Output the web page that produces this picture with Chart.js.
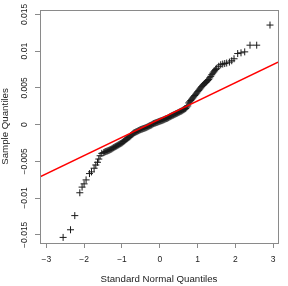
<!DOCTYPE html>
<html>
<head>
<meta charset="utf-8">
<script src="https://cdn.jsdelivr.net/npm/chart.js@4.4.0/dist/chart.umd.min.js"></script>
<style>
  html, body { margin: 0; padding: 0; background: #fff; }
  #wrap { width: 288px; height: 286px; }
</style>
</head>
<body>
<div id="wrap"><canvas id="qqChart"></canvas></div>
<script>
// theoretical normal quantiles
const theoQ = [
  -2.558, -2.362, -2.249, -2.116, -2.056, -2.003, -1.950, -1.860, -1.807, -1.738,
  -1.693, -1.648, -1.614, -1.579, -1.534,
  -1.481, -1.429, -1.376, -1.323, -1.270, -1.217, -1.164, -1.111, -1.058, -1.005,
  -0.952, -0.899, -0.847, -0.794, -0.741, -0.688, -0.635, -0.582, -0.529, -0.476,
  -0.423, -0.370, -0.317, -0.265, -0.212, -0.159, -0.106, -0.053, 0.000, 0.053,
  0.106, 0.159, 0.212, 0.265, 0.317, 0.370, 0.423, 0.476, 0.529, 0.582,
  0.635, 0.688, 0.741, 0.767, 0.820, 0.873, 0.926, 0.979, 1.032, 1.085,
  1.138, 1.190, 1.243, 1.296, 1.349, 1.402, 1.455, 1.508, 1.561, 1.614,
  1.667, 1.720, 1.772, 1.844, 1.905, 1.966, 2.063, 2.151, 2.249, 2.389,
  2.566, 2.918
];
// sample quantiles
const sampleQ = [
  -0.01536, -0.01432, -0.01239, -0.00928, -0.00851, -0.00807, -0.00753, -0.00667, -0.00644, -0.00594,
  -0.00550, -0.00513, -0.00469, -0.00424, -0.00392,
  -0.00381, -0.00367, -0.00357, -0.00345, -0.00331, -0.00313, -0.00297, -0.00282, -0.00266, -0.00250,
  -0.00230, -0.00205, -0.00185, -0.00165, -0.00138, -0.00115, -0.00101, -0.00088, -0.00074, -0.00063,
  -0.00053, -0.00043, -0.00030, -0.00016, -0.00003, 0.00014, 0.00024, 0.00034, 0.00045, 0.00054,
  0.00065, 0.00078, 0.00088, 0.00105, 0.00119, 0.00132, 0.00146, 0.00159, 0.00173, 0.00186,
  0.00203, 0.00220, 0.00254, 0.00295, 0.00328, 0.00362, 0.00396, 0.00430, 0.00466, 0.00500,
  0.00534, 0.00561, 0.00585, 0.00615, 0.00657, 0.00700, 0.00734, 0.00767, 0.00794, 0.00815,
  0.00824, 0.00831, 0.00838, 0.00851, 0.00869, 0.00896, 0.00967, 0.00977, 0.00990, 0.01081,
  0.01081, 0.01355
];
// the dense middle of the sample (overlapping crosses)
const theoQMid = [
  -1.455, -1.402, -1.349, -1.296, -1.243, -1.190, -1.138, -1.085, -1.032, -0.979,
  -0.926, -0.873, -0.820, -0.767, -0.714, -0.661, -0.608, -0.556, -0.503, -0.450,
  -0.397, -0.344, -0.291, -0.238, -0.185, -0.132, -0.079, -0.026, 0.026, 0.079,
  0.132, 0.185, 0.238, 0.291, 0.344, 0.397, 0.450, 0.503, 0.556, 0.608,
  0.661, 0.714, 0.794, 0.847, 0.899, 0.952, 1.005, 1.058, 1.111, 1.164,
  1.217, 1.270, 1.323, 1.376, 1.429, 1.481
];
const sampleQMid = [
  -0.00374, -0.00362, -0.00351, -0.00338, -0.00322, -0.00305, -0.00290, -0.00274, -0.00258, -0.00240,
  -0.00218, -0.00195, -0.00175, -0.00152, -0.00126, -0.00108, -0.00095, -0.00081, -0.00068, -0.00058,
  -0.00048, -0.00037, -0.00023, -0.00010, 0.00006, 0.00019, 0.00029, 0.00040, 0.00050, 0.00060,
  0.00072, 0.00083, 0.00097, 0.00112, 0.00126, 0.00139, 0.00152, 0.00166, 0.00180, 0.00195,
  0.00212, 0.00238, 0.00311, 0.00345, 0.00379, 0.00413, 0.00448, 0.00483, 0.00517, 0.00548,
  0.00573, 0.00600, 0.00636, 0.00679, 0.00717, 0.00751
];
// qqline end points
const lineX = [-3.17, 3.13];
const lineY = [-0.00712, 0.00851];

const xTicks = [-3, -2, -1, 0, 1, 2, 3];
const yTicks = [-0.015, -0.01, -0.005, 0, 0.005, 0.01, 0.015];

const axisGray = '#8a8a8a';
const fontFam = '"Liberation Sans", Arial, sans-serif';
const minus = v => String(v).replace('-', '\u2212');

// R style: full box + rotated y tick labels
const rStyle = {
  id: 'rStyle',
  afterDraw(chart) {
    const c = chart.ctx, a = chart.chartArea, ys = chart.scales.y;
    c.save();
    c.strokeStyle = axisGray;
    c.lineWidth = 1;
    c.strokeRect(a.left + 0.5, a.top + 0.5, a.right - a.left, a.bottom - a.top);
    c.fillStyle = '#222';
    c.font = '8.5px ' + fontFam;
    c.textAlign = 'center';
    c.textBaseline = 'middle';
    yTicks.forEach(v => {
      const py = ys.getPixelForValue(v);
      c.save();
      c.translate(a.left - 15, py);
      c.rotate(-Math.PI / 2);
      c.fillText(minus(v), 0, 0);
      c.restore();
    });
    c.restore();
  }
};

const points = theoQ.map((x, i) => ({ x: x, y: sampleQ[i] }))
  .concat(theoQMid.map((x, i) => ({ x: x, y: sampleQMid[i] })));

const ctx = document.getElementById('qqChart').getContext('2d');
const qqChart = new Chart(ctx, {
  type: 'scatter',
  data: {
    datasets: [{
      label: 'qqline',
      data: lineX.map((x, i) => ({ x: x, y: lineY[i] })),
      showLine: true,
      borderColor: '#ff0000',
      borderWidth: 1.5,
      pointRadius: 0,
      order: 0
    }, {
      label: 'sample',
      data: points,
      pointStyle: 'cross',
      pointRadius: 3.5,
      borderColor: '#1a1a1a',
      borderWidth: 1,
      order: 1
    }]
  },
  options: {
    responsive: true,
    maintainAspectRatio: false,
    animation: false,
    layout: { padding: { top: 10, right: 10, left: 0, bottom: 0 } },
    plugins: { legend: { display: false }, tooltip: { enabled: false } },
    scales: {
      x: {
        type: 'linear',
        min: -3.17,
        max: 3.13,
        afterBuildTicks: s => { s.ticks = xTicks.map(v => ({ value: v })); },
        afterFit: s => { s.height = 43; },
        grid: { drawOnChartArea: false, drawTicks: true, tickLength: 5, tickColor: axisGray },
        border: { display: true, color: axisGray },
        ticks: {
          color: '#222',
          padding: 7,
          font: { size: 8.5, family: fontFam },
          callback: v => minus(v)
        },
        title: {
          display: true,
          text: 'Standard Normal Quantiles',
          color: '#222',
          padding: { top: 0, bottom: 1 },
          font: { size: 9.7, family: fontFam }
        }
      },
      y: {
        type: 'linear',
        min: -0.01612,
        max: 0.0156,
        afterBuildTicks: s => { s.ticks = yTicks.map(v => ({ value: v })); },
        afterFit: s => { s.width = 40; },
        grid: { drawOnChartArea: false, drawTicks: true, tickLength: 5, tickColor: axisGray },
        border: { display: true, color: axisGray },
        ticks: { display: false },
        title: {
          display: true,
          text: 'Sample Quantiles',
          color: '#222',
          padding: 0,
          font: { size: 9.7, family: fontFam }
        }
      }
    }
  },
  plugins: [rStyle]
});
</script>
</body>
</html>
